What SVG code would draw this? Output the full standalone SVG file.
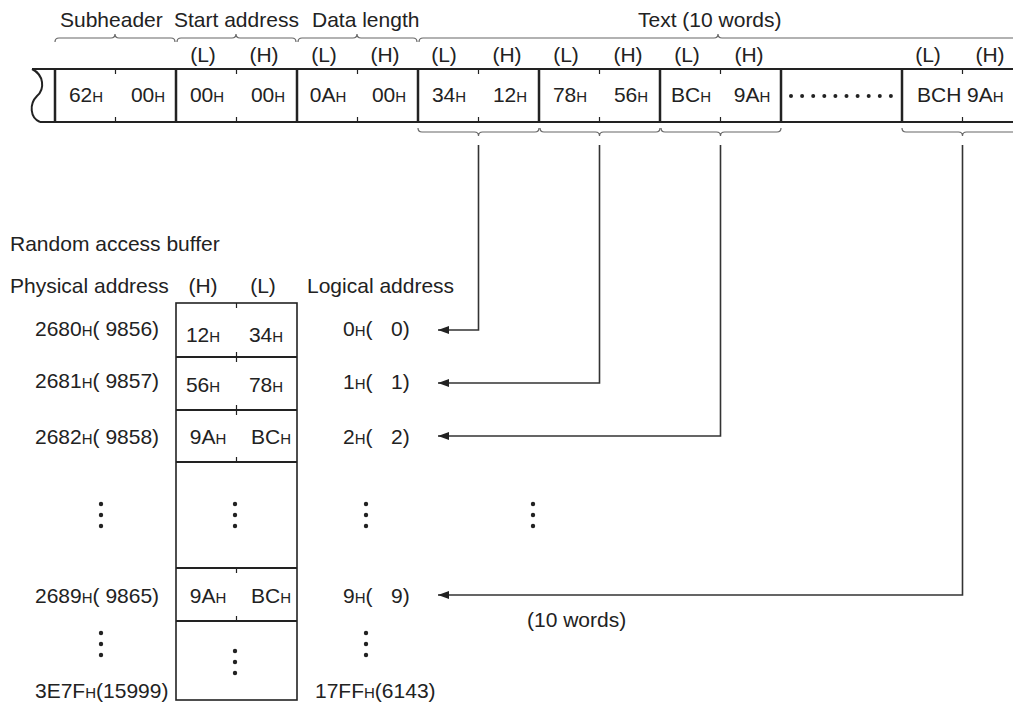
<svg xmlns="http://www.w3.org/2000/svg" width="1013" height="704" viewBox="0 0 1013 704">
<style>
text{font-family:"Liberation Sans",Arial,sans-serif;font-size:21px;fill:#222}
.s{font-size:15px}
.c{text-anchor:middle}
.brace{fill:none;stroke:#666;stroke-width:1.2}
.frame{stroke:#222;stroke-width:2;fill:none}
.sep{stroke:#222;stroke-width:2.5}
.tick{stroke:#222;stroke-width:1.2}
.conn{fill:none;stroke:#333;stroke-width:1.6}
.dot{fill:#222}
</style>
<defs>
<marker id="arr" markerUnits="userSpaceOnUse" markerWidth="12" markerHeight="10" refX="11" refY="5" orient="auto">
<path d="M0,1 L11,5 L0,9 z" fill="#222"/>
</marker>
</defs>
<rect width="1013" height="704" fill="#fff"/>

<g id="frame-header">
<text x="60" y="27">Subheader</text>
<text x="174" y="27">Start address</text>
<text x="312" y="27">Data length</text>
<text x="638" y="27">Text (10 words)</text>
<path class="brace" d="M55,42 Q55,38 59,38 L111,38 Q115,38 115,34 Q115,38 119,38 L171,38 Q175,38 175,42"/>
<path class="brace" d="M177,42 Q177,38 181,38 L232,38 Q236,38 236,34 Q236,38 240,38 L292,38 Q296,38 296,42"/>
<path class="brace" d="M298,42 Q298,38 302,38 L353,38 Q357,38 357,34 Q357,38 361,38 L413,38 Q417,38 417,42"/>
<path class="brace" d="M419,42 Q419,38 423,38 L714,38 Q718,38 718,34 Q718,38 722,38 L1020,38"/>
<g class="c">
<text x="203" y="62">(L)</text><text x="264" y="62">(H)</text>
<text x="324" y="62">(L)</text><text x="385" y="62">(H)</text>
<text x="444" y="62">(L)</text><text x="507" y="62">(H)</text>
<text x="566" y="62">(L)</text><text x="628" y="62">(H)</text>
<text x="687" y="62">(L)</text><text x="749" y="62">(H)</text>
<text x="928" y="62">(L)</text><text x="990" y="62">(H)</text>
</g>
</g>

<g id="frame-row">
<path class="frame" d="M32,69 H1013 M40,122 H1013"/>
<path class="frame" d="M32,69 C44,75 45,89 37,96 C29,104 30,118 40,122"/>
<path class="sep" d="M55,69 V122 M176,69 V122 M297,69 V122 M418,69 V122 M539,69 V122 M660,69 V122 M781,69 V122 M902,69 V122"/>
<path class="tick" d="M115.5,69 v5 M115.5,122 v-5 M236.5,69 v5 M236.5,122 v-5 M357.5,69 v5 M357.5,122 v-5 M478.5,69 v5 M478.5,122 v-5 M599.5,69 v5 M599.5,122 v-5 M720.5,69 v5 M720.5,122 v-5 M962.5,69 v5 M962.5,122 v-5"/>
<g class="c">
<text x="86" y="102">62<tspan class="s">H</tspan></text>
<text x="148" y="102">00<tspan class="s">H</tspan></text>
<text x="207" y="102">00<tspan class="s">H</tspan></text>
<text x="268" y="102">00<tspan class="s">H</tspan></text>
<text x="328" y="102">0A<tspan class="s">H</tspan></text>
<text x="389" y="102">00<tspan class="s">H</tspan></text>
<text x="449" y="102">34<tspan class="s">H</tspan></text>
<text x="510" y="102">12<tspan class="s">H</tspan></text>
<text x="570" y="102">78<tspan class="s">H</tspan></text>
<text x="631" y="102">56<tspan class="s">H</tspan></text>
<text x="691" y="102">BC<tspan class="s">H</tspan></text>
<text x="752" y="102">9A<tspan class="s">H</tspan></text>
</g>
<text x="917" y="102">BCH</text>
<text x="967" y="102">9A<tspan class="s">H</tspan></text>
<g class="dot">
<circle cx="791" cy="96" r="2"/><circle cx="802.1" cy="96" r="2"/><circle cx="813.2" cy="96" r="2"/><circle cx="824.3" cy="96" r="2"/><circle cx="835.4" cy="96" r="2"/><circle cx="846.5" cy="96" r="2"/><circle cx="857.6" cy="96" r="2"/><circle cx="868.7" cy="96" r="2"/><circle cx="879.8" cy="96" r="2"/><circle cx="890.9" cy="96" r="2"/>
</g>
<path class="brace" d="M418,128 Q418,132 422,132 L474.5,132 Q478.5,132 478.5,136 Q478.5,132 482.5,132 L535,132 Q539,132 539,128"/>
<path class="brace" d="M540,128 Q540,132 544,132 L595.5,132 Q599.5,132 599.5,136 Q599.5,132 603.5,132 L656,132 Q660,132 660,128"/>
<path class="brace" d="M661,128 Q661,132 665,132 L716.5,132 Q720.5,132 720.5,136 Q720.5,132 724.5,132 L777,132 Q781,132 781,128"/>
<path class="brace" d="M902,128 Q902,132 906,132 L958.5,132 Q962.5,132 962.5,136 Q962.5,132 966.5,132 L1020,132"/>
</g>

<g id="buffer-header">
<text x="10" y="251">Random access buffer</text>
<text x="10" y="293">Physical address</text>
<text class="c" x="203" y="293">(H)</text>
<text class="c" x="263" y="293">(L)</text>
<text x="307" y="293">Logical address</text>
</g>

<g id="buffer">
<rect x="176" y="303" width="121" height="397" fill="none" stroke="#222" stroke-width="1.6"/>
<path class="frame" d="M176,357 H297 M176,410 H297 M176,462 H297 M176,568 H297 M176,621 H297"/>
<path class="tick" d="M236.5,303 v5 M236.5,357 v-5 M236.5,357 v5 M236.5,410 v-5 M236.5,410 v5 M236.5,462 v-5 M236.5,568 v5 M236.5,621 v-5"/>
<g class="c">
<text x="203" y="342">12<tspan class="s">H</tspan></text>
<text x="266" y="342">34<tspan class="s">H</tspan></text>
<text x="203" y="392">56<tspan class="s">H</tspan></text>
<text x="266" y="392">78<tspan class="s">H</tspan></text>
<text x="208" y="444">9A<tspan class="s">H</tspan></text>
<text x="271" y="444">BC<tspan class="s">H</tspan></text>
<text x="208" y="603">9A<tspan class="s">H</tspan></text>
<text x="271" y="603">BC<tspan class="s">H</tspan></text>
</g>
</g>

<g id="physical-addresses">
<text x="35" y="336">2680<tspan class="s">H</tspan>( 9856)</text>
<text x="35" y="388">2681<tspan class="s">H</tspan>( 9857)</text>
<text x="35" y="444">2682<tspan class="s">H</tspan>( 9858)</text>
<text x="35" y="603">2689<tspan class="s">H</tspan>( 9865)</text>
<text x="35" y="698">3E7F<tspan class="s">H</tspan>(15999)</text>
</g>

<g id="logical-addresses">
<text x="343" y="336">0<tspan class="s">H</tspan>(<tspan x="391">0)</tspan></text>
<text x="343" y="389">1<tspan class="s">H</tspan>(<tspan x="391">1)</tspan></text>
<text x="343" y="444">2<tspan class="s">H</tspan>(<tspan x="391">2)</tspan></text>
<text x="343" y="603">9<tspan class="s">H</tspan>(<tspan x="391">9)</tspan></text>
<text x="315" y="698">17FF<tspan class="s">H</tspan>(6143)</text>
</g>

<g id="ellipses" class="dot">
<circle cx="101" cy="504" r="2.2"/><circle cx="101" cy="515" r="2.2"/><circle cx="101" cy="526" r="2.2"/>
<circle cx="235" cy="504" r="2.2"/><circle cx="235" cy="515" r="2.2"/><circle cx="235" cy="526" r="2.2"/>
<circle cx="366" cy="504" r="2.2"/><circle cx="366" cy="515" r="2.2"/><circle cx="366" cy="526" r="2.2"/>
<circle cx="533" cy="504" r="2.2"/><circle cx="533" cy="515" r="2.2"/><circle cx="533" cy="526" r="2.2"/>
<circle cx="101" cy="633" r="2.2"/><circle cx="101" cy="644" r="2.2"/><circle cx="101" cy="655" r="2.2"/>
<circle cx="235" cy="651" r="2.2"/><circle cx="235" cy="662" r="2.2"/><circle cx="235" cy="673" r="2.2"/>
<circle cx="366" cy="633" r="2.2"/><circle cx="366" cy="644" r="2.2"/><circle cx="366" cy="655" r="2.2"/>
</g>

<g id="connectors">
<path class="conn" marker-end="url(#arr)" d="M478.5,145 V330 H438"/>
<path class="conn" marker-end="url(#arr)" d="M599.5,145 V383 H438"/>
<path class="conn" marker-end="url(#arr)" d="M720.5,145 V436 H438"/>
<path class="conn" marker-end="url(#arr)" d="M962.5,145 V595 H438"/>
</g>

<g id="label-10words">
<text x="527" y="627">(10 words)</text>
</g>
</svg>
